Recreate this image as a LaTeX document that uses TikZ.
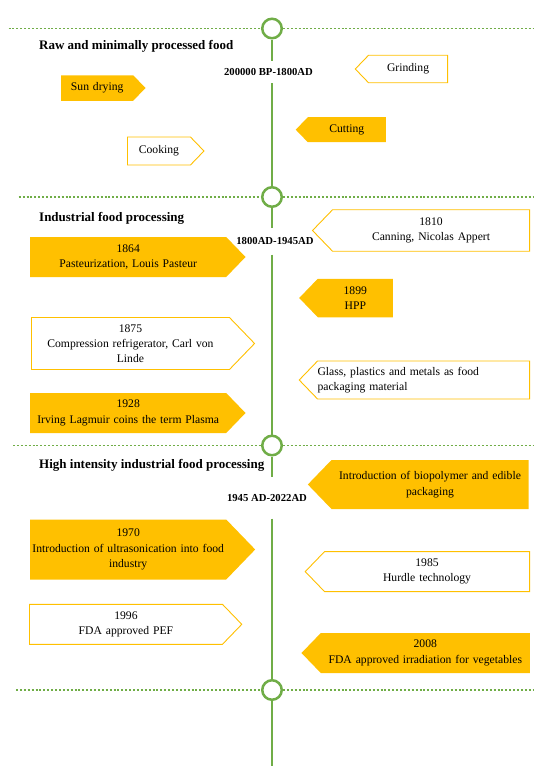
\documentclass[tikz,border=0pt]{standalone}
\usepackage{fontspec}
\setmainfont{Liberation Serif}
\usetikzlibrary{shapes.symbols,positioning}

\definecolor{leaf}{HTML}{70AD47}
\definecolor{amber}{HTML}{FFC000}

\tikzset{
	event/.style={signal, signal from=nowhere, signal pointer angle=92, inner xsep=0pt, inner ysep=0pt, align=center, text=black, font=\fontsize{11.65}{15.3}\selectfont},
	fullev/.style={event, fill=amber},
	emptyev/.style={event, draw=amber, line width=0.9pt, fill=white},
	pointright/.style={signal to=east, anchor=west},
	pointleft/.style={signal to=west, anchor=east},
	ring/.style={circle, draw=leaf, line width=2.5pt, fill=white, minimum size=19.5pt, inner sep=0pt},
	spine/.style={draw=leaf, line width=2.3pt},
	dotrule/.style={draw=leaf, line width=1.8pt, dash pattern=on 2pt off 1.9pt},
	era/.style={font=\bfseries\fontsize{10.7}{12}\selectfont, inner sep=0pt},
	phase/.style={font=\bfseries\fontsize{13}{15}\selectfont, anchor=west, inner sep=0pt}
}

\begin{document}
\begin{tikzpicture}[x=1pt, y=-1pt]
	\useasboundingbox (0,0) rectangle (533,766);
	
	\node[ring] (ring1) at (272,28.5) {};
	\node[ring] (ring2) at (272,197) {};
	\node[ring] (ring3) at (272,445.5) {};
	\node[ring] (ring4) at (272,690) {};
	
	\coordinate (l1) at (8.5,28.5);
	\coordinate (r1) at (533,28.5);
	\coordinate (l2) at (18.7,197);
	\coordinate (r2) at (533,197);
	\coordinate (l3) at (13,445.5);
	\coordinate (r3) at (533,445.5);
	\coordinate (l4) at (16,690);
	\coordinate (r4) at (533,690);
	\coordinate (end) at (272,766);
	
	\draw[dotrule] (l1) -- (ring1.west);
	\draw[dotrule] (ring1.east) -- (r1);
	\draw[dotrule] (l2) -- (ring2.west);
	\draw[dotrule] (ring2.east) -- (r2);
	\draw[dotrule] (l3) -- (ring3.west);
	\draw[dotrule] (ring3.east) -- (r3);
	\draw[dotrule] (l4) -- (ring4.west);
	\draw[dotrule] (ring4.east) -- (r4);
	
	\node[era, minimum height=22pt] (p1) at (268.5,72) {200000 BP-1800AD};
	\node[era, minimum height=26.6pt] (p2) at (275,241) {1800AD-1945AD};
	\node[era, minimum height=41pt] (p3) at (267,498) {1945 AD-2022AD};
	
	\draw[spine] (ring1.south) -- (ring1 |- p1.north);
	\draw[spine] (ring1 |- p1.south) -- (ring2.north);
	\draw[spine] (ring2.south) -- (ring2 |- p2.north);
	\draw[spine] (ring2 |- p2.south) -- (ring3.north);
	\draw[spine] (ring3.south) -- (ring3 |- p3.north);
	\draw[spine] (ring3 |- p3.south) -- (ring4.north);
	\draw[spine] (ring4.south) -- (end);
	
	\node[phase] (h1) at (39,46) {Raw and minimally processed food};
	\node[phase] (h2) at (39,218) {Industrial food processing};
	\node[phase] (h3) at (39,465.7) {High intensity industrial food processing};
	
	\node[fullev, pointright, text width=72pt, minimum height=25.5pt] (sun) at (61,88) {Sun drying};
	\node[emptyev, pointleft, text width=79pt, minimum height=27.5pt] (grind) at (448,69) {Grinding};
	\node[fullev, pointleft, text width=78pt, minimum height=25pt] (cut) at (386,129.7) {Cutting};
	\node[emptyev, pointright, text width=63pt, minimum height=28pt] (cook) at (127,151) {Cooking};
	
	\node[fullev, pointright, text width=196pt, minimum height=40pt] (pasteur) at (30,257) {1864\\Pasteurization, Louis Pasteur};
	\node[emptyev, pointleft, text width=197pt, minimum height=41.5pt] (canning) at (530,230.5) {1810\\Canning, Nicolas Appert};
	\node[fullev, pointleft, text width=75pt, minimum height=38.5pt] (hpp) at (393,298) {1899\\HPP};
	\node[emptyev, pointright, text width=198pt, minimum height=52pt] (fridge) at (31,343.5) {1875\\Compression refrigerator, Carl von\\Linde};
	\node[emptyev, pointleft, text width=212pt, minimum height=38pt, align=left] (glass) at (530,380) {Glass, plastics and metals as food\\packaging material};
	\node[fullev, pointright, text width=196pt, minimum height=40pt] (plasma) at (30,413) {1928\\Irving Lagmuir coins the term Plasma};
	
	\node[fullev, pointleft, text width=197pt, minimum height=49pt] (biopoly) at (528.7,484.5) {Introduction of biopolymer and edible\\packaging};
	\node[fullev, pointright, text width=196pt, minimum height=60pt] (ultra) at (30,549.5) {1970\\Introduction of ultrasonication into food\\industry};
	\node[emptyev, pointleft, text width=205pt, minimum height=40pt] (hurdle) at (530,571.6) {1985\\Hurdle technology};
	\node[emptyev, pointright, text width=193pt, minimum height=40pt] (pef) at (29,624.3) {1996\\FDA approved PEF};
	\node[fullev, pointleft, text width=209pt, minimum height=40pt] (irrad) at (530,653) {2008\\FDA approved irradiation for vegetables};
\end{tikzpicture}
\end{document}
